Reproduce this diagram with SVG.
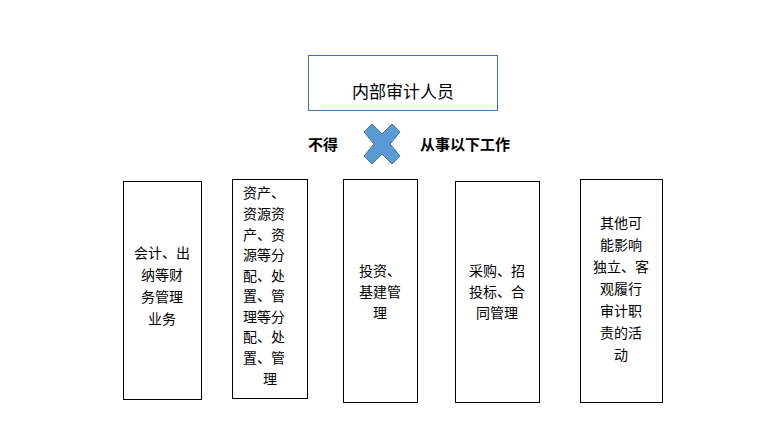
<svg xmlns="http://www.w3.org/2000/svg" width="784" height="439" viewBox="0 0 784 439">
<style>
.b{fill:#fff;stroke:#000;stroke-width:1}
text{font-family:"Noto Sans CJK SC",sans-serif;font-size:14px;fill:#000}
.c{text-anchor:middle}
.bold{font-weight:bold;font-size:15px}
</style>
<rect width="784" height="439" fill="#fff"/>
<g id="top"><rect x="308.5" y="55.5" width="189" height="55" fill="#fff" stroke="#41719C"/><text x="403" y="98" class="c" style="font-size:17px">内部审计人员</text></g>
<g id="cross">
<path d="M364,132 L372,124 L382,134 L392,124 L400,132 L390,144 L400,156 L392,164 L382,154 L372,164 L364,156 L374,144 Z" fill="#5B9BD5" stroke="#41719C"/>
<text x="308" y="150" class="bold">不得</text>
<text x="420" y="150" class="bold">从事以下工作</text>
</g>
<g id="n1"><rect class="b" x="123.5" y="181.5" width="78" height="218"/>
<text x="162" y="258" class="c">会计、出</text><text x="162" y="280" class="c">纳等财</text><text x="162" y="302" class="c">务管理</text><text x="162" y="324" class="c">业务</text></g>
<g id="n2"><rect class="b" x="232.5" y="179.5" width="75" height="219"/>
<text x="243" y="198">资产、</text><text x="243" y="219">资源资</text><text x="243" y="240">产、资</text><text x="243" y="260">源等分</text><text x="243" y="281">配、处</text><text x="243" y="301">置、管</text><text x="243" y="322">理等分</text><text x="243" y="342">配、处</text><text x="243" y="363">置、管</text><text x="270" y="384" class="c">理</text></g>
<g id="n3"><rect class="b" x="343.5" y="179.5" width="74" height="223"/>
<text x="380" y="276" class="c">投资、</text><text x="380" y="297" class="c">基建管</text><text x="380" y="318" class="c">理</text></g>
<g id="n4"><rect class="b" x="455.5" y="181.5" width="84" height="221"/>
<text x="497" y="276" class="c">采购、招</text><text x="497" y="297" class="c">投标、合</text><text x="497" y="318" class="c">同管理</text></g>
<g id="n5"><rect class="b" x="580.5" y="179.5" width="82" height="223"/>
<text x="621" y="228" class="c">其他可</text><text x="621" y="250" class="c">能影响</text><text x="621" y="272" class="c">独立、客</text><text x="621" y="294" class="c">观履行</text><text x="621" y="316" class="c">审计职</text><text x="621" y="338" class="c">责的活</text><text x="621" y="360" class="c">动</text></g>
<g id="connectors"></g>
</svg>
